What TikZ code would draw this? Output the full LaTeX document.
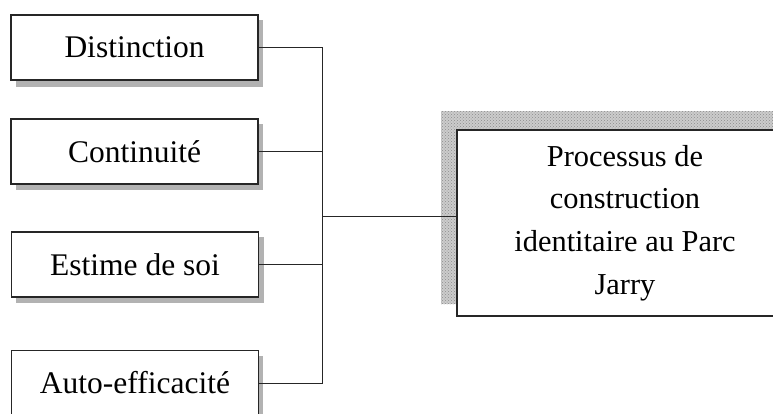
\documentclass[tikz,border=0pt]{standalone}
\usepackage{fontspec}
\setmainfont{Liberation Serif}
\usetikzlibrary{patterns}
\begin{document}
\begin{tikzpicture}[x=1pt,y=-1pt,
  factor/.style={draw=black!85, line width=1.3pt, fill=white, minimum width=247pt,
    minimum height=65pt, inner sep=0pt, font=\fontsize{31.5}{36}\selectfont},
  dropshade/.style={fill=gray!60, draw=none},
  result/.style={draw=black!85, line width=1.3pt, fill=white, minimum width=336pt,
    minimum height=186pt, inner sep=0pt, align=center,
    font=\fontsize{30.4}{42.6}\selectfont},
  hatchshade/.style={pattern=crosshatch dots, pattern color=gray!90},
  link/.style={draw=black!85, line width=1pt}]
  \useasboundingbox (0,0) rectangle (773,413);
  \begin{scope}
  \clip (0,0) rectangle (773,413);
  % soft shadows behind the four factor boxes
  \fill[dropshade] (16,20) rectangle (263,87);
  \fill[dropshade] (16,124) rectangle (263,190);
  \fill[dropshade] (16,237) rectangle (264,303);
  \fill[dropshade] (17,356) rectangle (263,420);
  % textured shadow behind the result box
  \fill[gray!40] (441,111) rectangle (800,304);
  \fill[hatchshade] (441,111) rectangle (800,304);

  \node[factor] (dist) at (134.5,47.5) {Distinction};
  \node[factor] (cont) at (134.5,151.5) {Continuité};
  \node[factor] (esti) at (135,264.5) {Estime de soi};
  \node[factor] (auto) at (135,383) {Auto-efficacité};
  \node[result] (proc) at (625,223) {Processus de\\construction\\identitaire au Parc\\Jarry};

  \coordinate (bus) at (322,216);
  \draw[link] (dist.east) -- (dist.east -| bus) -- (auto.east -| bus) -- (auto.east);
  \draw[link] (cont.east) -- (cont.east -| bus);
  \draw[link] (esti.east) -- (esti.east -| bus);
  \draw[link] (bus) -- (proc.west |- bus);
  \end{scope}
\end{tikzpicture}
\end{document}
